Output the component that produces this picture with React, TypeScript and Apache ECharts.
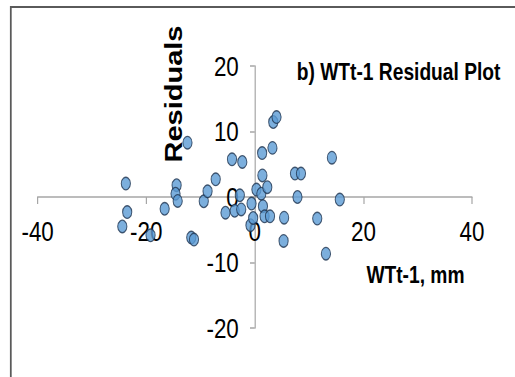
import React, { useEffect, useRef } from "react";
import * as echarts from "echarts";

const xValues = [
  -23.75, -23.5, -24.4, -19.2, -16.6, -14.4, -14.6, -14.2, -12.4, -11.7, -11.2,
  -9.4, -8.7, -7.2, -5.4, -4.2, -3.7, -2.76, -2.5, -2.3, -0.6, -0.8, -0.3, 0.3,
  1.2, 1.4, 1.35, 1.5, 1.8, 2.3, 2.8, 3.25, 3.4, 4.0, 5.4, 5.3, 7.4, 8.5, 7.86,
  11.5, 13.1, 14.2, 15.65,
];
const yValues = [
  2.05, -2.3, -4.5, -5.85, -1.8, 1.8, 0.5, -0.6, 8.3, -6.2, -6.5, -0.65, 0.87,
  2.7, -2.4, 5.75, -2.1, 0.26, -1.9, 5.35, -1.0, -4.3, -3.2, 1.13, 0.5, 3.3,
  6.7, -1.4, -2.95, 1.5, -2.95, 7.5, 11.45, 12.2, -3.15, -6.7, 3.57, 3.57, 0.0,
  -3.3, -8.65, 6.0, -0.4,
];
const xTicks = { min: -40, max: 40, interval: 20 };
const yTicks = { min: -20, max: 20, interval: 10 };
const titleText = "b) WTt-1 Residual Plot";
const xName = "WTt-1, mm";
const yName = "Residuals";

const FONT = '"Liberation Sans", Arial, sans-serif';
const SX = 0.8; // horizontal squeeze of the original picture
const W = 644;
const H = 377;

export default function App() {
  const ref = useRef<HTMLDivElement>(null);
  useEffect(() => {
    if (!ref.current) return;
    const chart = echarts.init(ref.current, null, { renderer: "svg" });
    const data = xValues.map((x, i) => [x, yValues[i]]);
    const axisColor = "#a6a6a6";
    const gl = 47, gr = 54, gt = 66, gb = 49;
    const gw = W - gl - gr;
    const gh = H - gt - gb;
    chart.setOption({
      animation: false,
      backgroundColor: "#ffffff",
      grid: { left: gl, right: gr, top: gt, bottom: gb, containLabel: false, outerBoundsMode: "none" },
      xAxis: {
        type: "value",
        position: "bottom",
        offset: -gh / 2,
        min: xTicks.min,
        max: xTicks.max,
        interval: xTicks.interval,
        splitLine: { show: false },
        axisLine: { onZero: false, lineStyle: { color: axisColor, width: 1.5 } },
        axisTick: { show: true, inside: false, length: 7, lineStyle: { color: axisColor, width: 1.5 } },
        axisLabel: { color: "#000", fontSize: 28, fontFamily: FONT, margin: 20 },
      },
      yAxis: {
        type: "value",
        position: "left",
        offset: -gw / 2,
        min: yTicks.min,
        max: yTicks.max,
        interval: yTicks.interval,
        splitLine: { show: false },
        axisLine: { onZero: false, lineStyle: { color: axisColor, width: 1.5 } },
        axisTick: { show: true, inside: false, length: 6, lineStyle: { color: axisColor, width: 1.5 } },
        axisLabel: { color: "#000", fontSize: 28, fontFamily: FONT, margin: 20 },
      },
      series: [
        {
          type: "scatter",
          data,
          symbol: "circle",
          symbolSize: [11.5, 12.5],
          itemStyle: { color: "#5b9bd5", borderColor: "#1f3550", borderWidth: 1.3 },
          z: 3,
        },
      ],
      graphic: [
        {
          type: "rect",
          shape: { x: 13.5, y: 7, width: 800, height: 500 },
          style: { fill: "none", stroke: "#5a5a5a", lineWidth: 2.2 },
          silent: true,
          z: 0,
        },
        {
          type: "text",
          x: 371,
          y: 72,
          style: {
            text: titleText,
            font: `bold 24px ${FONT}`,
            fill: "#000",
            textVerticalAlign: "middle",
            textAlign: "left",
          },
        },
        {
          type: "text",
          x: 458,
          y: 275,
          style: {
            text: xName,
            font: `bold 24px ${FONT}`,
            fill: "#000",
            textVerticalAlign: "middle",
            textAlign: "left",
          },
        },
        {
          type: "text",
          x: 218,
          y: 94,
          rotation: Math.PI / 2,
          style: {
            text: yName,
            font: `bold 29px ${FONT}`,
            fill: "#000",
            textVerticalAlign: "middle",
            textAlign: "center",
          },
        },
      ],
    });
    return () => chart.dispose();
  }, []);
  return (
    <div
      style={{ position: "absolute", left: 0, top: 0, width: 515, height: 377, overflow: "hidden", background: "#fff" }}
    >
      <div
        ref={ref}
        style={{
          position: "absolute",
          left: 0,
          top: 0,
          width: W,
          height: H,
          transform: `scaleX(${SX})`,
          transformOrigin: "0 0",
        }}
      />
    </div>
  );
}
